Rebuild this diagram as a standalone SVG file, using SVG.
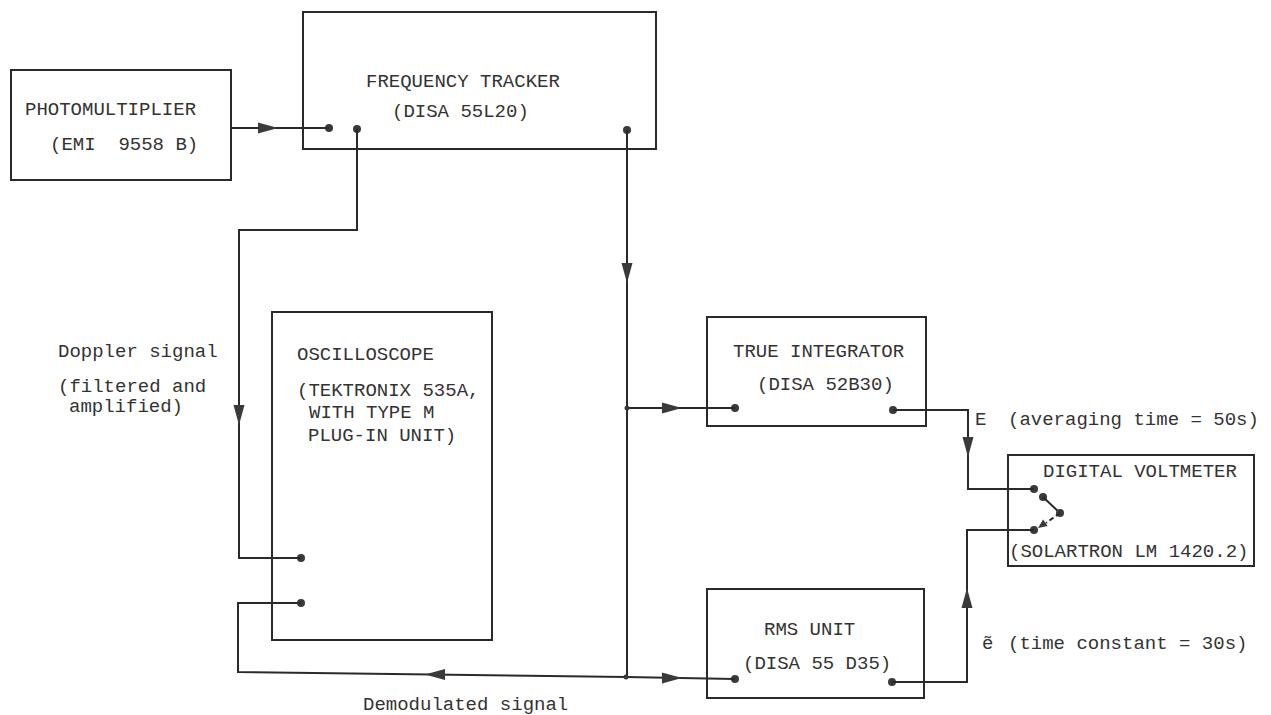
<svg xmlns="http://www.w3.org/2000/svg" xmlns:xlink="http://www.w3.org/1999/xlink" width="1271" height="715" viewBox="0 0 1271 715">
<style>
.box{fill:none;stroke:#2a2a2a;stroke-width:2}
.ln{fill:none;stroke:#2a2a2a;stroke-width:2}
.t{font-family:"Liberation Mono","DejaVu Sans Mono",monospace;font-size:19px;fill:#333}
.dot{fill:#3a3a3a}
.ah{fill:#3a3a3a}
</style>
<defs>
<path id="ah" d="M0,0 L-20,-5.5 L-20,5.5 Z"/>
<path id="ahs" d="M0,0 L-9,-4 L-9,4 Z"/>
</defs>
<rect width="1271" height="715" fill="#fff"/>

<g id="photomultiplier">
<rect class="box" x="11" y="70" width="220" height="110"/>
<text class="t" x="25" y="115">PHOTOMULTIPLIER</text>
<text class="t" x="50" y="150" xml:space="preserve">(EMI  9558 B)</text>
</g>

<g id="frequency-tracker">
<rect class="box" x="303" y="12" width="353" height="137"/>
<text class="t" x="366" y="87">FREQUENCY TRACKER</text>
<text class="t" x="392" y="117">(DISA 55L20)</text>
<circle class="dot" cx="329" cy="128" r="4"/>
<circle class="dot" cx="357" cy="129" r="4"/>
<circle class="dot" cx="627" cy="130" r="4"/>
</g>

<g id="oscilloscope">
<rect class="box" x="272" y="312" width="220" height="328"/>
<text class="t" x="297" y="360">OSCILLOSCOPE</text>
<text class="t" x="297" y="396">(TEKTRONIX 535A,</text>
<text class="t" x="309" y="418">WITH TYPE M</text>
<text class="t" x="308" y="441">PLUG-IN UNIT)</text>
<circle class="dot" cx="301" cy="558" r="4"/>
<circle class="dot" cx="301" cy="603" r="4"/>
</g>

<g id="true-integrator">
<rect class="box" x="707" y="317" width="219" height="109"/>
<text class="t" x="733" y="357">TRUE INTEGRATOR</text>
<text class="t" x="757" y="390">(DISA 52B30)</text>
<circle class="dot" cx="735" cy="408" r="4"/>
<circle class="dot" cx="893" cy="410" r="4"/>
</g>

<g id="rms-unit">
<rect class="box" x="707" y="589" width="217" height="109"/>
<text class="t" x="764" y="635">RMS UNIT</text>
<text class="t" x="743" y="669">(DISA 55 D35)</text>
<circle class="dot" cx="735" cy="679" r="4"/>
<circle class="dot" cx="892" cy="682" r="4"/>
</g>

<g id="digital-voltmeter">
<rect class="box" x="1008" y="455" width="246" height="111"/>
<text class="t" x="1043" y="477">DIGITAL VOLTMETER</text>
<text class="t" x="1009" y="557">(SOLARTRON LM 1420.2)</text>
<circle class="dot" cx="1034" cy="489" r="4"/>
<circle class="dot" cx="1043" cy="497" r="4"/>
<line class="ln" x1="1043" y1="497" x2="1060" y2="513"/>
<circle class="dot" cx="1060" cy="513" r="4"/>
<line class="ln" x1="1060" y1="513" x2="1046" y2="523" stroke-dasharray="5,3"/>
<use class="ah" xlink:href="#ahs" transform="translate(1038,528) rotate(145)"/>
<circle class="dot" cx="1034" cy="530" r="4"/>
</g>

<g id="connectors">
<path class="ln" d="M231,128 H329"/>
<use class="ah" xlink:href="#ah" transform="translate(278,128)"/>
<path class="ln" d="M357,129 V230 H239 V558 H301"/>
<use class="ah" xlink:href="#ah" transform="translate(239,425) rotate(90)"/>
<path class="ln" d="M301,603 H238 V672 L626,677 L735,679"/>
<use class="ah" xlink:href="#ah" transform="translate(425,674.5) rotate(180)"/>
<use class="ah" xlink:href="#ah" transform="translate(682,678)"/>
<path class="ln" d="M627,130 V677"/>
<use class="ah" xlink:href="#ah" transform="translate(627,283) rotate(90)"/>
<path class="ln" d="M627,408 H735"/>
<use class="ah" xlink:href="#ah" transform="translate(682,408)"/>
<circle class="dot" cx="627" cy="408" r="2.5"/>
<circle class="dot" cx="626" cy="677" r="2.5"/>
<path class="ln" d="M893,410 H968 V489 H1034"/>
<use class="ah" xlink:href="#ah" transform="translate(968,457) rotate(90)"/>
<path class="ln" d="M892,682 H967 V530 H1034"/>
<use class="ah" xlink:href="#ah" transform="translate(967,588) rotate(-90)"/>
</g>

<g id="labels">
<text class="t" x="58" y="357">Doppler signal</text>
<text class="t" x="58" y="392">(filtered and</text>
<text class="t" x="69" y="412">amplified)</text>
<text class="t" x="363" y="710">Demodulated signal</text>
<text class="t" x="975" y="425">E</text>
<text class="t" x="1008" y="425">(averaging time = 50s)</text>
<text class="t" x="982" y="649">ẽ</text>
<text class="t" x="1008" y="649">(time constant = 30s)</text>
</g>
</svg>
